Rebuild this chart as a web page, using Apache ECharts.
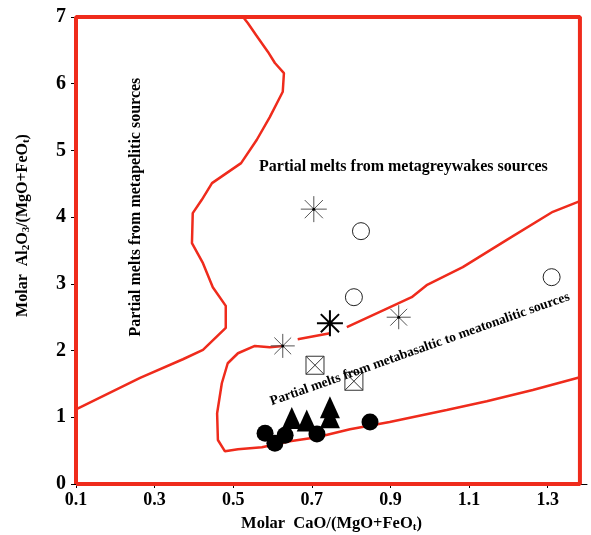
<!DOCTYPE html>
<html><head><meta charset="utf-8">
<script src="https://cdn.jsdelivr.net/npm/echarts@6/dist/echarts.min.js"></script>
<style>html,body{margin:0;padding:0;background:#fff}#c{width:591px;height:535px}</style>
</head><body><div id="c"></div>
<script>
// ---- Field boundaries ----
const frameX = [0.1, 1.382, 1.382, 0.1, 0.1];
const frameY = [0, 0, 7, 7, 0];

// metapelitic / metagreywacke boundary
const peliticX = [0.525, 0.537, 0.558, 0.588, 0.606, 0.629, 0.626, 0.593, 0.560, 0.520, 0.446, 0.420, 0.397, 0.395, 0.423, 0.448, 0.481, 0.481, 0.423, 0.372, 0.263, 0.1];
const peliticY = [7.0, 6.91, 6.73, 6.48, 6.31, 6.16, 5.88, 5.50, 5.16, 4.81, 4.51, 4.26, 4.06, 3.61, 3.31, 2.95, 2.67, 2.34, 2.01, 1.87, 1.59, 1.12];

// metabasaltic field boundary (null = gap around markers)
const basaltX = [1.382, 1.313, 1.196, 1.084, 0.992, 0.954, 0.873, 0.789, null, 0.746, 0.664, null, 0.626, 0.593, 0.555, 0.512, 0.486, 0.471, 0.459, 0.461, 0.479, 0.512, 0.573, 0.644, 0.713, 0.797, 0.898, 1.043, 1.145, 1.262, 1.382];
const basaltY = [4.24, 4.08, 3.66, 3.25, 2.98, 2.80, 2.58, 2.35, null, 2.26, 2.17, null, 2.07, 2.05, 2.07, 1.96, 1.81, 1.51, 1.06, 0.66, 0.49, 0.52, 0.55, 0.64, 0.70, 0.82, 0.93, 1.11, 1.24, 1.41, 1.60];

// ---- Samples ----
const asteriskX = [0.705, 0.921, 0.626];
const asteriskY = [4.12, 2.50, 2.07];
const asteriskSize = [26, 24, 24];
const boldAsteriskX = [0.746];
const boldAsteriskY = [2.41];
const openCircleX = [0.825, 0.807, 1.310];
const openCircleY = [3.79, 2.80, 3.10];
const squareX = [0.708, 0.807];
const squareY = [1.78, 1.54];
const triangleX = [0.649, 0.687, 0.746, 0.746];
const triangleY = [0.99, 0.95, 1.15, 1.00];
const dotX = [0.581, 0.606, 0.632, 0.713, 0.848];
const dotY = [0.76, 0.61, 0.73, 0.75, 0.93];

// ---- Field labels ----
const fieldNames = ['Partial melts from metagreywakes sources', 'Partial melts from metapelitic sources', 'Partial melts from metabasaltic to meatonalitic sources'];
const fieldX = [0.933, 0.253, 0.975];
const fieldY = [4.75, 4.15, 2.02];
const fieldRotate = [0, 90, 19.5];
const fieldSize = [16, 16, 13.5];

const xTicks = {min: 0.1, max: 1.4, interval: 0.2};
const yTicks = {min: 0, max: 7, interval: 1};

const RED = '#ef2b1c';
const FONT = '"Liberation Serif", "DejaVu Serif", serif';
const pairs = (xs, ys) => xs.map((x, i) => (x === null || ys[i] === null) ? ['-', '-'] : [x, ys[i]]);
const subRich = {s: {fontFamily: FONT, fontWeight: 'bold', fontSize: 11, lineHeight: 10, verticalAlign: 'bottom', color: '#000'}};

const chart = echarts.init(document.getElementById('c'), null, {renderer: 'canvas'});
chart.setOption({
  animation: false,
  backgroundColor: '#fff',
  grid: {left: 76, right: 4, top: 17, bottom: 51, containLabel: false, outerBoundsMode: 'none'},
  xAxis: {
    type: 'value', min: xTicks.min, max: xTicks.max, interval: xTicks.interval,
    splitLine: {show: false},
    axisLine: {show: true, lineStyle: {color: '#000', width: 1}},
    axisTick: {show: true, length: 4, lineStyle: {color: '#000'}},
    axisLabel: {color: '#000', fontFamily: FONT, fontWeight: 'bold', fontSize: 18, margin: 7, showMaxLabel: false,
      formatter: v => (Math.round(v * 10) / 10).toFixed(1)},
    name: 'Molar  CaO/(MgO+FeO{s|t})', nameLocation: 'middle', nameGap: 31,
    nameTextStyle: {color: '#000', fontFamily: FONT, fontWeight: 'bold', fontSize: 16.5, lineHeight: 18, rich: subRich}
  },
  yAxis: {
    type: 'value', min: yTicks.min, max: yTicks.max, interval: yTicks.interval,
    splitLine: {show: false},
    axisLine: {show: true, lineStyle: {color: '#000', width: 1}},
    axisTick: {show: true, length: 5, lineStyle: {color: '#000'}},
    axisLabel: {color: '#000', fontFamily: FONT, fontWeight: 'bold', fontSize: 20, margin: 10},
    name: 'Molar  Al{s|2}O{s|3}/(MgO+FeO{s|t})', nameLocation: 'middle', nameGap: 44,
    nameTextStyle: {color: '#000', fontFamily: FONT, fontWeight: 'bold', fontSize: 16, lineHeight: 18, rich: subRich,
      padding: [0, 0, 0, 50]}
  },
  series: [
    {type: 'line', data: pairs(peliticX, peliticY), symbol: 'none', lineStyle: {color: RED, width: 2.5}, z: 3, silent: true},
    {type: 'line', data: pairs(basaltX, basaltY), symbol: 'none', connectNulls: false, lineStyle: {color: RED, width: 2.5}, z: 3, silent: true},
    {type: 'line', data: pairs(frameX, frameY), symbol: 'none', lineStyle: {color: RED, width: 4}, z: 4, silent: true},
    {type: 'scatter', data: pairs(asteriskX, asteriskY).map((d, i) => ({value: d, symbolSize: asteriskSize[i]})),
      symbol: 'path://M10,0L10,20M0,10L20,10M3,3L17,17M17,3L3,17',
      itemStyle: {color: 'rgba(0,0,0,0)', borderColor: '#555', borderWidth: 1, opacity: 1}, z: 5},
    {type: 'scatter', data: pairs(boldAsteriskX, boldAsteriskY), symbolSize: 26,
      symbol: 'path://M10,0L10,20M0,10L20,10M3,3L17,17M17,3L3,17',
      itemStyle: {color: 'rgba(0,0,0,0)', borderColor: '#000', borderWidth: 2, opacity: 1}, z: 5},
    {type: 'scatter', data: pairs(asteriskX.concat(boldAsteriskX), asteriskY.concat(boldAsteriskY)), symbol: 'circle', symbolSize: 3,
      itemStyle: {color: '#000', opacity: 1}, z: 6},
    {type: 'scatter', data: pairs(openCircleX, openCircleY), symbol: 'circle', symbolSize: 17,
      itemStyle: {color: '#fff', borderColor: '#222', borderWidth: 1, opacity: 1}, z: 5},
    {type: 'scatter', data: pairs(squareX, squareY), symbolSize: 18,
      symbol: 'path://M0,0L20,0L20,20L0,20ZM0,0L20,20M20,0L0,20',
      itemStyle: {color: '#fff', borderColor: '#333', borderWidth: 1, opacity: 1}, z: 5},
    {type: 'scatter', data: pairs(dotX, dotY), symbol: 'circle', symbolSize: 17,
      itemStyle: {color: '#000', opacity: 1}, z: 5},
    {type: 'scatter', data: pairs(triangleX, triangleY), symbol: 'triangle', symbolSize: [20, 22],
      itemStyle: {color: '#000', opacity: 1}, z: 5},
    {type: 'scatter', symbolSize: 0, z: 7, silent: true, itemStyle: {opacity: 1},
      data: fieldNames.map((t, i) => ({value: [fieldX[i], fieldY[i]],
        label: {show: true, formatter: t, rotate: fieldRotate[i], position: 'inside', align: 'center', verticalAlign: 'middle',
          color: '#000', fontFamily: FONT, fontWeight: 'bold', fontSize: fieldSize[i]}}))}
  ]
});
</script>
</body></html>
